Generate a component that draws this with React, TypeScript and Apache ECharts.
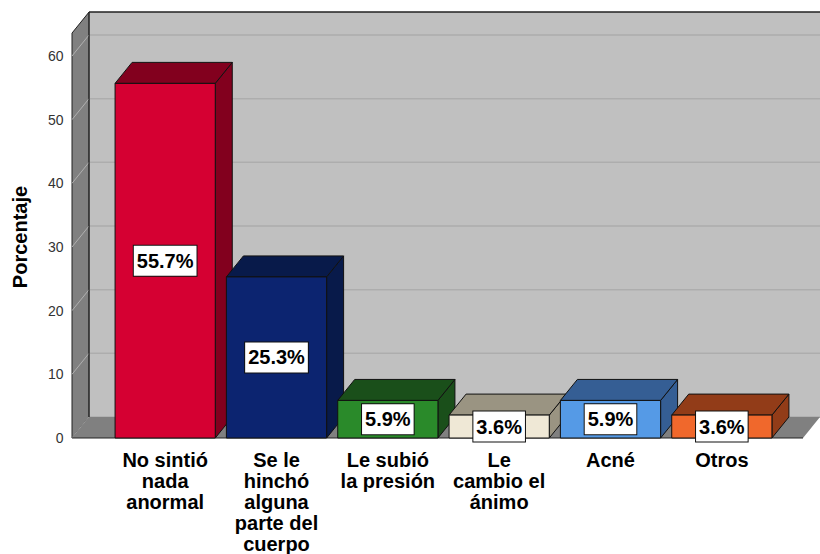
import React, { useEffect, useRef } from "react";
import * as echarts from "echarts";

const categories = [
  "No sintió\nnada\nanormal",
  "Se le\nhinchó\nalguna\nparte del\ncuerpo",
  "Le subió\nla presión",
  "Le\ncambio el\nánimo",
  "Acné",
  "Otros",
];
const percentages = [55.7, 25.3, 5.9, 3.6, 5.9, 3.6];
const yTicks = [0, 10, 20, 30, 40, 50, 60];
const yMin = 0;
const yMax = 60;
const yTitle = "Porcentaje";
const wallTop = 63.6;

const frontColors = ["#d50032", "#0c2470", "#2a8a2a", "#efe8d6", "#559ae6", "#f0682c"];
const darkColors = ["#82001e", "#081a4a", "#1a4f1a", "#9a9482", "#355e94", "#923c18"];

const DX = 17;
const DY = -21;
const FONT = "'Liberation Sans', Arial, sans-serif";

export default function App() {
  const ref = useRef<HTMLDivElement>(null);
  useEffect(() => {
    if (!ref.current) return;
    const chart = echarts.init(ref.current, undefined, { renderer: "svg" });

    const wallsRender = (params: any, api: any) => {
      const cs = params.coordSys;
      const leftX = cs.x - 37.5;
      const backLeft = leftX + DX;
      const rightFront = cs.x + cs.width + 25.5;
      const fullRight = api.getWidth() + 5;
      const y0 = api.coord([0, 0])[1];
      const yT = api.coord([0, wallTop])[1];
      const children: any[] = [];
      children.push({
        type: "rect",
        shape: { x: backLeft, y: yT + DY, width: fullRight - backLeft, height: y0 - yT },
        style: { fill: "#c0c0c0", stroke: "none" },
      });
      yTicks.forEach((t) => {
        const y = api.coord([0, t])[1] + DY;
        children.push({
          type: "line",
          shape: { x1: backLeft, y1: y, x2: fullRight, y2: y },
          style: { stroke: "#adadad", lineWidth: 1.5 },
        });
      });
      children.push({
        type: "polygon",
        shape: {
          points: [
            [leftX, y0],
            [leftX, yT],
            [backLeft, yT + DY],
            [backLeft, y0 + DY],
          ],
        },
        style: { fill: "#808080", stroke: "#222", lineWidth: 1 },
      });
      yTicks.forEach((t) => {
        const y = api.coord([0, t])[1];
        children.push({
          type: "line",
          shape: { x1: leftX, y1: y, x2: backLeft, y2: y + DY },
          style: { stroke: "#b0b0b0", lineWidth: 1 },
        });
      });
      children.push({
        type: "polygon",
        shape: {
          points: [
            [leftX, y0],
            [rightFront, y0],
            [rightFront + DX, y0 + DY],
            [backLeft, y0 + DY],
          ],
        },
        style: { fill: "#808080", stroke: "none" },
      });
      children.push({
        type: "line",
        shape: { x1: leftX, y1: y0, x2: rightFront, y2: y0 },
        style: { stroke: "#222", lineWidth: 1.2 },
      });
      children.push({
        type: "line",
        shape: { x1: backLeft, y1: yT + DY, x2: fullRight, y2: yT + DY },
        style: { stroke: "#222", lineWidth: 1.5 },
      });
      children.push({
        type: "line",
        shape: { x1: backLeft, y1: yT + DY, x2: backLeft, y2: y0 + DY },
        style: { stroke: "#222", lineWidth: 1 },
      });
      return { type: "group", children };
    };

    const barsRender = (params: any, api: any) => {
      const i = api.value(0);
      const v = api.value(1);
      const base = api.coord([i, 0]);
      const top = api.coord([i, v]);
      const bw = api.size([1, 0])[0] * 0.9;
      const x0 = base[0] - bw / 2;
      const x1 = base[0] + bw / 2;
      const y0 = base[1];
      const yt = top[1];
      const front = frontColors[params.dataIndex];
      const dark = darkColors[params.dataIndex];
      const edge = { stroke: "#111", lineWidth: 1 };
      return {
        type: "group",
        children: [
          {
            type: "polygon",
            shape: {
              points: [
                [x1, yt],
                [x1 + DX, yt + DY],
                [x1 + DX, y0 + DY],
                [x1, y0],
              ],
            },
            style: { fill: dark, ...edge },
          },
          {
            type: "polygon",
            shape: {
              points: [
                [x0, yt],
                [x1, yt],
                [x1 + DX, yt + DY],
                [x0 + DX, yt + DY],
              ],
            },
            style: { fill: dark, ...edge },
          },
          {
            type: "rect",
            shape: { x: x0, y: yt, width: bw, height: y0 - yt },
            style: { fill: front, ...edge },
          },
          {
            type: "text",
            x: base[0],
            y: (y0 + yt) / 2,
            style: {
              text: v.toFixed(1) + "%",
              fill: "#000",
              font: `bold 20px ${FONT}`,
              align: "center",
              verticalAlign: "middle",
              backgroundColor: "#fff",
              borderColor: "#111",
              borderWidth: 1,
              padding: [4, 3, 3, 3],
              lineHeight: 23,
            },
          },
        ],
      };
    };

    chart.setOption({
      animation: false,
      backgroundColor: "#fff",
      grid: { left: 109.5, width: 668, top: 56, height: 384 },
      graphic: [
        {
          type: "text",
          x: 20,
          y: 237,
          rotation: Math.PI / 2,
          style: {
            text: yTitle,
            fill: "#000",
            font: `bold 20px ${FONT}`,
            align: "center",
            verticalAlign: "middle",
          },
        },
      ],
      xAxis: {
        type: "category",
        data: categories,
        axisLine: { show: false },
        axisTick: { show: false },
        axisLabel: {
          interval: 0,
          margin: 11,
          color: "#000",
          fontWeight: "bold",
          fontSize: 20,
          lineHeight: 21,
          fontFamily: FONT,
        },
      },
      yAxis: {
        type: "value",
        min: yMin,
        max: yMax,
        interval: 10,
        splitLine: { show: false },
        axisLine: { show: false },
        axisTick: { show: false },
        axisLabel: { margin: 46, color: "#333", fontSize: 14, fontFamily: FONT },
      },
      series: [
        {
          type: "custom",
          renderItem: wallsRender,
          data: [[0, 0]],
          clip: false,
          silent: true,
          z: 1,
        },
        {
          type: "custom",
          renderItem: barsRender,
          data: percentages.map((v, i) => [i, v]),
          clip: false,
          z: 2,
        },
      ],
    });
    return () => chart.dispose();
  }, []);
  return (
    <div
      ref={ref}
      style={{ position: "absolute", left: 0, top: 0, width: 820, height: 554 }}
    />
  );
}
